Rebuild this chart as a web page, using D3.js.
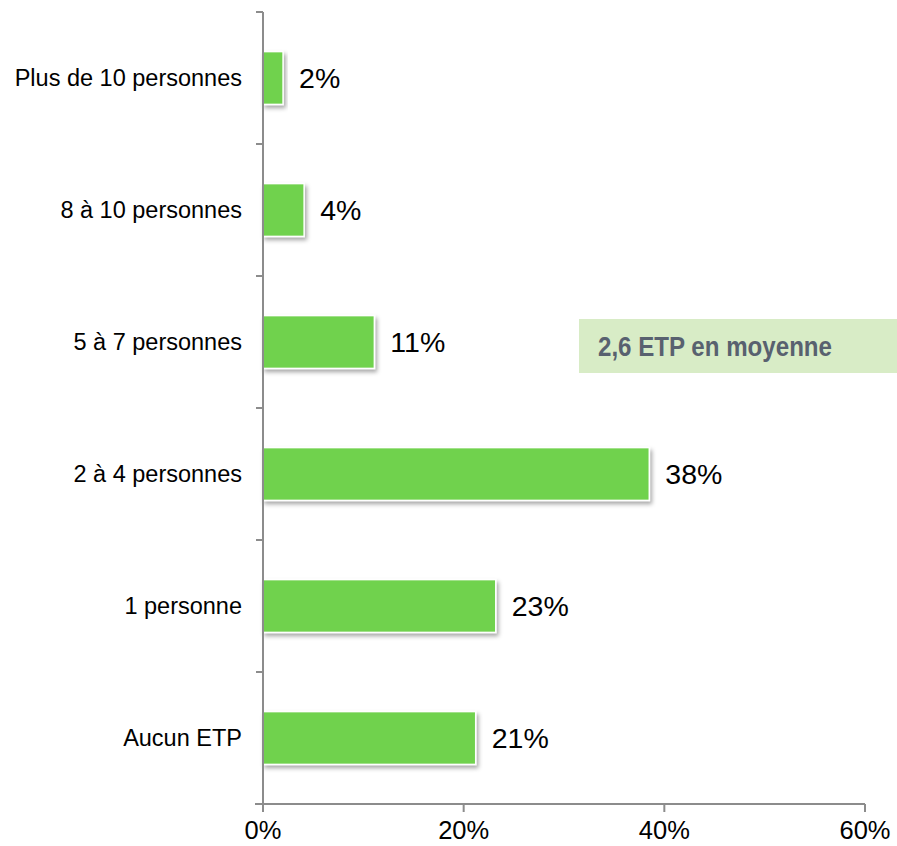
<!DOCTYPE html>
<html><head><meta charset="utf-8">
<script src="https://cdn.jsdelivr.net/npm/d3@7"></script>
<style>body{margin:0;background:#fff}</style>
</head><body>
<svg id="c" width="897" height="846"></svg>
<script>
const categories = ["Plus de 10 personnes","8 à 10 personnes","5 à 7 personnes","2 à 4 personnes","1 personne","Aucun ETP"];
const values = [2.0, 4.1, 11.1, 38.5, 23.2, 21.2];
const labels = ["2%","4%","11%","38%","23%","21%"];
const xTicks = [0, 20, 40, 60];
const note = "2,6 ETP en moyenne";

const svg = d3.select("#c");
const pLeft = 263, pRight = 865, pTop = 12, pBottom = 804;
const x = d3.scaleLinear().domain([0,60]).range([pLeft,pRight]);
const y = d3.scaleBand().domain(categories).range([pTop,pBottom]).paddingInner(0.6).paddingOuter(0.3);
const FONT = "'Liberation Sans', Arial, sans-serif";

const defs = svg.append("defs");
const f = defs.append("filter").attr("id","sh").attr("x","-10%").attr("y","-20%").attr("width","130%").attr("height","160%");
f.append("feDropShadow").attr("dx",2).attr("dy",3).attr("stdDeviation",2).attr("flood-color","#000").attr("flood-opacity",0.35);

// bars
svg.append("g").selectAll("rect").data(categories).join("rect")
  .attr("x", x(0))
  .attr("y", d => y(d))
  .attr("width", (d,i) => x(values[i]) - x(0))
  .attr("height", y.bandwidth())
  .attr("fill","#70d24e")
  .attr("stroke","#fff").attr("stroke-width",1.5)
  .attr("filter","url(#sh)");

// value labels
svg.append("g").selectAll("text").data(categories).join("text")
  .attr("x", (d,i) => x(values[i]) + 16)
  .attr("y", d => y(d) + y.bandwidth()/2 + 10)
  .attr("font-family",FONT)
  .attr("font-size",28.5).attr("fill","#000")
  .text((d,i) => labels[i]);

// y axis
const yAxisScale = d3.scaleBand().domain(categories).range([pTop,pBottom]);
const gy = svg.append("g").attr("transform",`translate(${pLeft},0)`);
gy.append("line").attr("x1",0).attr("x2",0).attr("y1",pTop).attr("y2",pBottom+8).attr("stroke","#8c8c8c").attr("stroke-width",2);
const yTickPos = categories.map(c => yAxisScale(c));
gy.selectAll("line.t").data(yTickPos).join("line").attr("class","t")
  .attr("x1",-7).attr("x2",0).attr("y1",d=>d).attr("y2",d=>d)
  .attr("stroke","#8c8c8c").attr("stroke-width",2);
gy.selectAll("text").data(categories).join("text")
  .attr("x",-21).attr("y",d => yAxisScale(d) + yAxisScale.bandwidth()/2 + 8)
  .attr("text-anchor","end")
  .attr("font-family",FONT)
  .attr("font-size",23.5).attr("fill","#000")
  .text(d=>d);

// x axis
const gx = svg.append("g").attr("transform",`translate(0,${pBottom})`);
gx.append("line").attr("x1",pLeft-8).attr("x2",pRight).attr("y1",0).attr("y2",0).attr("stroke","#8c8c8c").attr("stroke-width",2);
gx.selectAll("line.t").data(xTicks).join("line").attr("class","t")
  .attr("x1",d=>x(d)).attr("x2",d=>x(d)).attr("y1",0).attr("y2",8)
  .attr("stroke","#8c8c8c").attr("stroke-width",2);
gx.selectAll("text").data(xTicks).join("text")
  .attr("x",d=>x(d)).attr("y",35)
  .attr("text-anchor","middle")
  .attr("font-family",FONT)
  .attr("font-size",25.5).attr("fill","#000")
  .text(d=>d+"%");

// note box
svg.append("rect").attr("x",579).attr("y",319).attr("width",318).attr("height",54).attr("fill","#d8ecc6");
svg.append("text").attr("x",598).attr("y",356)
  .attr("font-family",FONT)
  .attr("font-weight","bold").attr("font-size",27).attr("fill","#58616f")
  .attr("textLength",234).attr("lengthAdjust","spacingAndGlyphs")
  .text(note);
</script>
</body></html>
